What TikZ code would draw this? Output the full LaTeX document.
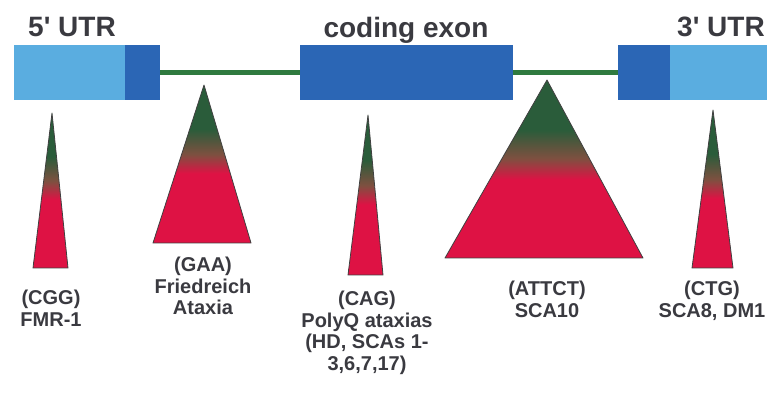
\documentclass[tikz,border=0pt]{standalone}
\usepackage{fontspec}
\setmainfont{Liberation Sans}
\usepackage{tikz}
\usetikzlibrary{positioning}

\definecolor{utrblue}{HTML}{5AADE0}
\definecolor{cdsblue}{HTML}{2B66B5}
\definecolor{introngreen}{HTML}{2F7A3F}
\definecolor{repgreen}{HTML}{2A5C3A}
\definecolor{repbrown}{HTML}{7E5040}
\definecolor{repred}{HTML}{DE1244}
\definecolor{labelgray}{HTML}{3A3A40}

\pgfdeclareverticalshading{expansion}{100bp}{color(0bp)=(repred); color(25bp)=(repred); color(47bp)=(repred); color(53bp)=(repbrown); color(61bp)=(repgreen); color(100bp)=(repgreen)}

\tikzstyle{utr} = [fill=utrblue,minimum height=55pt,inner sep=0pt]
\tikzstyle{cds} = [fill=cdsblue,minimum height=55pt,inner sep=0pt]
\tikzstyle{intron} = [introngreen,line width=5pt]
\tikzstyle{header} = [text=labelgray,font=\fontsize{28}{30}\selectfont\bfseries,anchor=base,inner sep=0pt]
\tikzstyle{disease} = [text=labelgray,font=\fontsize{20}{21.5}\selectfont\bfseries,align=center,anchor=north,inner sep=0pt]
\tikzstyle{repeatcone} = [shading=expansion,draw=black!75,line width=0.8pt,line join=round]

\begin{document}
\begin{tikzpicture}[x=1pt,y=-1pt]
	\useasboundingbox (0,0) rectangle (772,395);
	% gene
	\node (utr5) at (69.5,72.5) [utr,minimum width=111pt] {};
	\node (cds5) at (142.5,72.5) [cds,minimum width=35pt] {};
	\node (exon) at (406.5,72.5) [cds,minimum width=213pt] {};
	\node (cds3) at (644,72.5) [cds,minimum width=52pt] {};
	\node (utr3) at (718.5,72.5) [utr,minimum width=97pt] {};
	\draw [intron] (cds5.east) -- (exon.west);
	\draw [intron] (exon.east) -- (cds3.west);
	\node (h5) at (72,37) [header] {5\textquotesingle\ UTR};
	\node (hexon) at (406,38) [header] {coding exon};
	\node (h3) at (721,37) [header] {3\textquotesingle\ UTR};

	% repeat expansions
	\foreach \ax/\ay/\bl/\br/\by in {52/113/33/68/268, 204/85/153/251/243, 368/115/348/383/275, 547/80/445/643/258, 713/110/692/733/268} {
		\shade [repeatcone] (\ax,\ay) -- (\br,\by) -- (\bl,\by) -- cycle;
	}

	\node (cgg) at (51,290) [disease] {(CGG)\\FMR-1};
	\node (gaa) at (203,257) [disease] {(GAA)\\Friedreich\\Ataxia};
	\node (cag) at (367,291) [disease] {(CAG)\\PolyQ ataxias\\(HD, SCAs 1-\\3,6,7,17)};
	\node (attct) at (547,281) [disease] {(ATTCT)\\SCA10};
	\node (ctg) at (712,281) [disease] {(CTG)\\SCA8, DM1};
\end{tikzpicture}
\end{document}
